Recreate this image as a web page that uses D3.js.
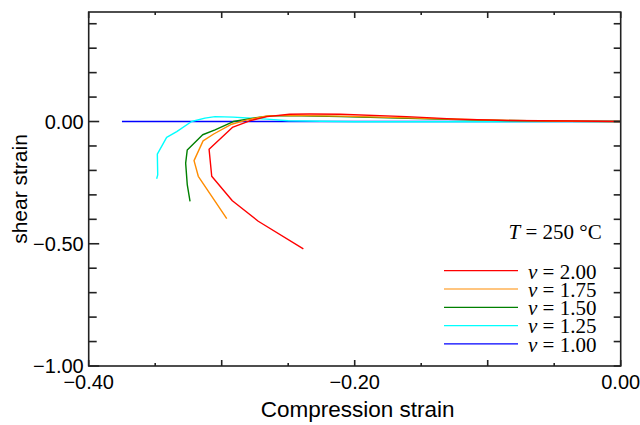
<html><head>
<meta charset="utf-8">
<script src="https://d3js.org/d3.v7.min.js"></script>
<style>
  body { margin: 0; background: #fff; }
  .tick-label { font-family: "Liberation Sans", Arial, sans-serif; font-size: 20px; fill: #000; }
  .axis-title { font-family: "Liberation Sans", Arial, sans-serif; font-size: 21px; fill: #000; }
  .legend text { font-family: "Liberation Serif", "Times New Roman", serif; font-size: 21px; fill: #000; }
</style>
</head>
<body>
<svg id="chart" width="640" height="425"></svg>
<script>
// data, traced from the origin outward
const labels = ["2.00", "1.75", "1.50", "1.25", "1.00"];
const colors = ["#ff0000", "#ff8c00", "#008000", "#00ffff", "#0000ff"];

const x_v200 = [0, -0.036, -0.086, -0.123, -0.161, -0.211, -0.234, -0.249, -0.266, -0.279, -0.292, -0.3095, -0.3075, -0.292, -0.2725, -0.2386];
const y_v200 = [0, 0.002, 0.004, 0.010, 0.020, 0.030, 0.031, 0.030, 0.020, 0.003, -0.024, -0.113, -0.224, -0.324, -0.408, -0.521];

const x_v175 = [0, -0.04, -0.10, -0.16, -0.21, -0.25, -0.266, -0.281, -0.2925, -0.306, -0.314, -0.3208, -0.3176, -0.2962];
const y_v175 = [0, 0.001, 0.006, 0.015, 0.022, 0.025, 0.023, 0.007, -0.011, -0.051, -0.079, -0.160, -0.224, -0.397];

const x_v150 = [0, -0.04, -0.10, -0.16, -0.21, -0.25, -0.2636, -0.2762, -0.2913, -0.305, -0.3143, -0.3259, -0.3271, -0.3259, -0.3238];
const y_v150 = [0, 0.001, 0.005, 0.013, 0.020, 0.024, 0.023, 0.014, 0.000, -0.034, -0.054, -0.116, -0.170, -0.258, -0.327];

const x_v125 = [0, -0.10, -0.20, -0.25, -0.2662, -0.2913, -0.305, -0.3126, -0.3226, -0.3338, -0.3414, -0.3484, -0.3481, -0.3489];
const y_v125 = [0, -0.001, -0.001, 0.003, 0.010, 0.018, 0.020, 0.014, 0.000, -0.041, -0.065, -0.133, -0.218, -0.234];

const x_v100 = [0, -0.10, -0.20, -0.30, -0.375];
const y_v100 = [0, 0, 0, 0, 0];

const xTicksMajor = [-0.40, -0.30, -0.20, -0.10, 0.00];
const xTicksMinor = [-0.35, -0.25, -0.15, -0.05];
const xTickLabels = [-0.40, -0.20, 0.00];
const yTicks = [-0.9, -0.8, -0.7, -0.6, -0.4, -0.3, -0.2, -0.1, 0.1, 0.2, 0.3, 0.4];
const yTickLabels = [-1.00, -0.50, 0.00];

const series = [
  {xs: x_v200, ys: y_v200},
  {xs: x_v175, ys: y_v175},
  {xs: x_v150, ys: y_v150},
  {xs: x_v125, ys: y_v125},
  {xs: x_v100, ys: y_v100}
];

let svg = d3.select("svg#chart");
const margins = {"top": 12, "right": 19.3, "bottom": 59, "left": 88.7};
const width = 640, height = 425;
const chartWidth = width - margins.left - margins.right;
const chartHeight = height - margins.top - margins.bottom;

const xScale = d3.scaleLinear().domain([-0.40, 0.00]).range([margins.left, margins.left + chartWidth]);
const yScale = d3.scaleLinear().domain([-1.00, 0.448]).range([margins.top + chartHeight, margins.top]);

const fmt = d3.format(".2f");
const minus = s => s.replace("-", "\u2212");

// curves, drawn blue first so red ends on top
let line = d3.line().x(d => xScale(d[0])).y(d => yScale(d[1]));
for (let i = series.length - 1; i >= 0; i--) {
  let pts = series[i].xs.map((x, j) => [x, series[i].ys[j]]);
  svg.append("path")
     .attr("d", line(pts))
     .attr("fill", "none")
     .attr("stroke", colors[i])
     .attr("stroke-width", 1.4)
     .attr("stroke-linejoin", "round");
}

// frame
let x0 = xScale(-0.40), x1 = xScale(0), yb = yScale(-1), yt = yScale(0.448);
let frame = svg.append("g").attr("stroke", "#222").attr("stroke-width", 1.6);

// x ticks (inward, top and bottom)
xTicksMajor.forEach(t => {
  frame.append("line").attr("x1", xScale(t)).attr("x2", xScale(t)).attr("y1", yb).attr("y2", yb - 6);
  frame.append("line").attr("x1", xScale(t)).attr("x2", xScale(t)).attr("y1", yt).attr("y2", yt + 6);
});
xTicksMinor.forEach(t => {
  frame.append("line").attr("x1", xScale(t)).attr("x2", xScale(t)).attr("y1", yb).attr("y2", yb - 3);
  frame.append("line").attr("x1", xScale(t)).attr("x2", xScale(t)).attr("y1", yt).attr("y2", yt + 3);
});

// y ticks (inward, left and right)
yTicks.forEach(t => {
  frame.append("line").attr("x1", x0).attr("x2", x0 + 8).attr("y1", yScale(t)).attr("y2", yScale(t));
  frame.append("line").attr("x1", x1).attr("x2", x1 - 7).attr("y1", yScale(t)).attr("y2", yScale(t));
});
yTickLabels.forEach(t => {
  frame.append("line").attr("x1", x0).attr("x2", x0 + 10.5).attr("y1", yScale(t)).attr("y2", yScale(t));
  frame.append("line").attr("x1", x1).attr("x2", x1 - 7).attr("y1", yScale(t)).attr("y2", yScale(t));
});

frame.append("rect")
     .attr("x", x0).attr("y", yt)
     .attr("width", x1 - x0).attr("height", yb - yt)
     .attr("fill", "none");

// tick labels
svg.selectAll("text.xlab").data(xTickLabels).join("text")
   .attr("class", "tick-label")
   .attr("x", d => xScale(d))
   .attr("y", yb + 23)
   .attr("text-anchor", "middle")
   .text(d => minus(fmt(d)));

svg.selectAll("text.ylab").data(yTickLabels).join("text")
   .attr("class", "tick-label")
   .attr("x", x0 - 5)
   .attr("y", d => yScale(d) + 7)
   .attr("text-anchor", "end")
   .text(d => minus(fmt(d)));

// axis titles
svg.append("text").attr("class", "axis-title")
   .attr("x", (x0 + x1) / 2 + 3).attr("y", 417)
   .style("font-size", "22.5px")
   .attr("text-anchor", "middle")
   .text("Compression strain");

svg.append("text").attr("class", "axis-title")
   .attr("transform", "translate(27," + ((yt + yb) / 2) + ") rotate(-90)")
   .attr("text-anchor", "middle")
   .text("shear strain");

// legend
let legend = svg.append("g").attr("class", "legend");
let tl = legend.append("text").attr("x", 601.7).attr("y", 239).attr("text-anchor", "end");
tl.append("tspan").attr("font-style", "italic").text("T");
tl.append("tspan").text(" = 250 \u00b0C");

labels.forEach((lab, i) => {
  let ly = 270.7 + i * 18.3;
  legend.append("line")
        .attr("x1", 444).attr("x2", 518)
        .attr("y1", ly).attr("y2", ly)
        .attr("stroke", colors[i]).attr("stroke-width", 1.2);
  let t = legend.append("text").attr("x", 528).attr("y", ly + 7.8);
  t.append("tspan").attr("font-style", "italic").text("v");
  t.append("tspan").text(" = " + lab);
});
</script>
</body>
</html>
